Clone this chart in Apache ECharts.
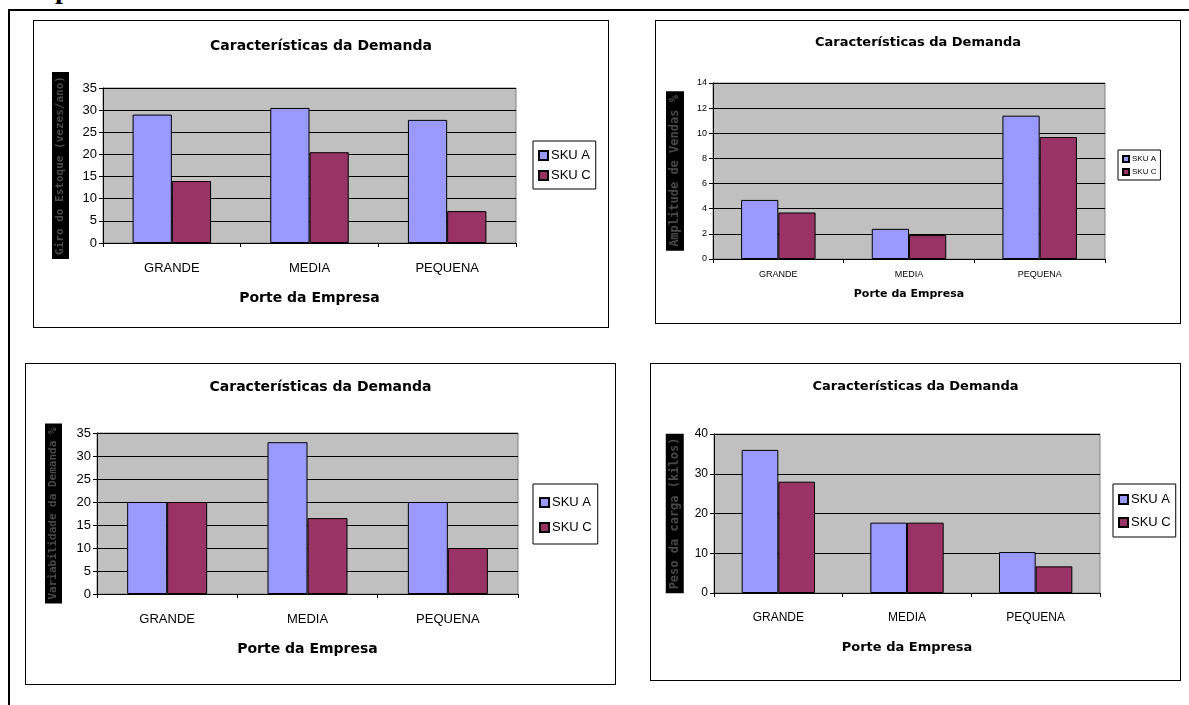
<!DOCTYPE html>
<html lang="pt">
<head>
  <meta charset="utf-8">
  <title>Características da Demanda</title>
  <script src="https://cdn.jsdelivr.net/npm/echarts@6/dist/echarts.min.js"></script>
  <style>
    body { margin: 0; background: #fff; width: 1189px; height: 705px; overflow: hidden; position: relative; font-family: "Liberation Sans", Arial, sans-serif; }
    .frame { position: absolute; left: 8px; top: 9px; width: 1200px; height: 720px; border-left: 2px solid #000; border-top: 2px solid #000; }
    .head { position: absolute; left: 13px; top: -27px; font: bold 28px/32px "Liberation Serif", serif; }
    .box { position: absolute; border: 1px solid #000; background: #fff; box-sizing: border-box; }
  </style>
</head>
<body>
<div class="head">Empresa</div>
<div class="frame"></div>

<div id="c1" class="box" style="left:33px;top:20px;width:576px;height:308px;"></div>
<div id="c2" class="box" style="left:655px;top:20px;width:526px;height:304px;"></div>
<div id="c3" class="box" style="left:25px;top:363px;width:591px;height:322px;"></div>
<div id="c4" class="box" style="left:650px;top:363px;width:531px;height:318px;"></div>

<script>
  // categorias e valores
  const categories = ['GRANDE', 'MEDIA', 'PEQUENA'];

  const giroA = [29, 30.5, 27.8];
  const giroC = [14, 20.5, 7.2];

  const amplitudeA = [4.7, 2.4, 11.4];
  const amplitudeC = [3.7, 1.9, 9.7];

  const variabA = [20, 33, 20];
  const variabC = [20, 16.5, 10];

  const pesoA = [36, 17.7, 10.3];
  const pesoC = [28, 17.7, 6.7];

  const FONT = '"Liberation Sans", Arial, sans-serif';
  const WIDE = '"DejaVu Sans", sans-serif';

  function drawChart(id, cfg) {
    let chart = echarts.init(document.getElementById(id));
    let option = {
      animation: false,
      title: {
        text: 'Características da Demanda',
        left: 'center',
        top: cfg.titleTop,
        textStyle: { fontFamily: WIDE, fontSize: cfg.titleSize, fontWeight: 'bold', color: '#000' }
      },
      legend: {
        orient: 'vertical',
        left: cfg.legend[0],
        top: cfg.legend[1],
        width: cfg.legend[2],
        height: cfg.legend[3],
        padding: cfg.legendPad,
        itemGap: cfg.legendGap,
        itemWidth: cfg.legendIcon,
        itemHeight: cfg.legendIcon,
        icon: 'rect',
        borderColor: '#000',
        borderWidth: 1,
        textStyle: { fontFamily: FONT, fontSize: cfg.legendFont, color: '#000', padding: [0, 0, 0, -2] },
        data: ['SKU A', 'SKU C']
      },
      grid: {
        left: cfg.grid[0], top: cfg.grid[1], width: cfg.grid[2], height: cfg.grid[3],
        show: true, backgroundColor: '#c0c0c0', borderColor: '#808080', borderWidth: 1
      },
      xAxis: {
        type: 'category',
        data: categories,
        name: 'Porte da Empresa',
        nameLocation: 'middle',
        nameGap: cfg.xNameGap,
        nameTextStyle: { fontFamily: WIDE, fontSize: cfg.nameSize, fontWeight: 'bold', color: '#000' },
        axisLine: { lineStyle: { color: '#000', width: 1 } },
        axisTick: { show: true, length: 4, lineStyle: { color: '#000' } },
        axisLabel: { fontFamily: FONT, fontSize: cfg.labelSize, color: '#000', margin: cfg.xLabelMargin }
      },
      yAxis: {
        type: 'value',
        min: 0,
        max: cfg.max,
        interval: cfg.interval,
        name: cfg.yName,
        nameLocation: 'middle',
        nameRotate: 90,
        nameGap: cfg.yNameGap,
        nameTextStyle: {
          fontFamily: '"DejaVu Sans Mono", monospace', fontSize: cfg.yNameSize, fontWeight: 'bold',
          color: '#4a4a4a', backgroundColor: '#000', padding: [3, 4, 3, 4]
        },
        axisLine: { show: true, lineStyle: { color: '#000', width: 1 } },
        axisTick: { show: true, length: 4, lineStyle: { color: '#000' } },
        axisLabel: { fontFamily: FONT, fontSize: cfg.yLabelSize, color: '#000', margin: 6 },
        splitLine: { lineStyle: { color: '#000', width: 1 } }
      },
      series: [
        {
          name: 'SKU A', type: 'bar', data: cfg.a,
          barGap: '0%', barCategoryGap: '43%',
          itemStyle: { color: '#9999ff', borderColor: '#000', borderWidth: 1 }
        },
        {
          name: 'SKU C', type: 'bar', data: cfg.c,
          itemStyle: { color: '#993366', borderColor: '#000', borderWidth: 1 }
        }
      ]
    };
    chart.setOption(option);
  }

  drawChart('c1', {
    titleTop: 13, titleSize: 14,
    legend: [499, 120, 67, 52], legendPad: [8, 5, 7, 5], legendGap: 7, legendIcon: 9, legendFont: 13,
    grid: [69, 67, 413, 155],
    xNameGap: 48, nameSize: 14, labelSize: 13, yLabelSize: 13, xLabelMargin: 19,
    max: 35, interval: 5,
    yName: 'Giro do Estoque (vezes/ano)', yNameGap: 34, yNameSize: 11,
    a: giroA, c: giroC
  });

  drawChart('c2', {
    titleTop: 10, titleSize: 13,
    legend: [462, 129, 58, 33], legendPad: [5, 4, 4, 4], legendGap: 5, legendIcon: 6, legendFont: 8,
    grid: [57, 62, 392, 176],
    xNameGap: 30, nameSize: 11, labelSize: 9, yLabelSize: 9, xLabelMargin: 11,
    max: 14, interval: 2,
    yName: 'Amplitude de Vendas %', yNameGap: 29, yNameSize: 12,
    a: amplitudeA, c: amplitudeC
  });

  drawChart('c3', {
    titleTop: 11, titleSize: 14,
    legend: [507, 120, 78, 66], legendPad: [12, 6, 10, 6], legendGap: 12, legendIcon: 9, legendFont: 13,
    grid: [71, 69, 421, 161],
    xNameGap: 48, nameSize: 14, labelSize: 13, yLabelSize: 13, xLabelMargin: 19,
    max: 35, interval: 5,
    yName: 'Variabilidade da Demanda %', yNameGap: 35, yNameSize: 11,
    a: variabA, c: variabC
  });

  drawChart('c4', {
    titleTop: 11, titleSize: 13,
    legend: [462, 120, 66, 57], legendPad: [9, 5, 8, 5], legendGap: 10, legendIcon: 9, legendFont: 13,
    grid: [63, 70, 386, 159],
    xNameGap: 48, nameSize: 13, labelSize: 12, yLabelSize: 12, xLabelMargin: 19,
    max: 40, interval: 10,
    yName: 'Peso da carga (kilos)', yNameGap: 29, yNameSize: 12,
    a: pesoA, c: pesoC
  });
</script>
</body>
</html>
